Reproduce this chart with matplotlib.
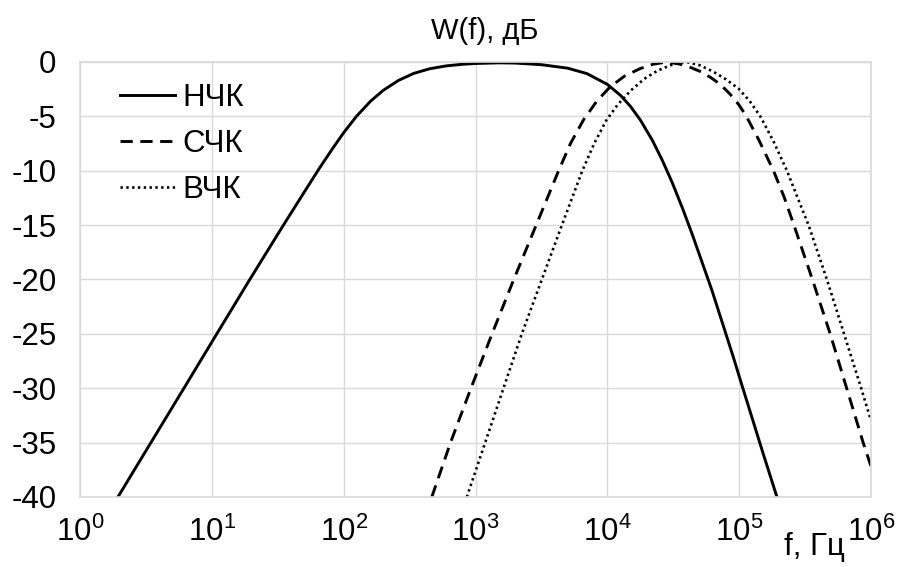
import matplotlib
matplotlib.use("Agg")
import matplotlib.pyplot as plt
from matplotlib.ticker import FixedLocator, NullLocator

plt.rcParams.update({
    "font.family": ["Liberation Sans", "DejaVu Sans"],
    "mathtext.fontset": "custom",
    "mathtext.rm": "Liberation Sans",
    "mathtext.default": "regular",
    "axes.unicode_minus": False,
})

# =============================
#  Data
# =============================
# НЧК (solid)
f_nck = [1.94, 3.45, 6.14, 10.9, 19.4, 34.5, 50, 66, 83, 100, 125, 160, 200, 260, 340,
         450, 600, 800, 1000, 1500, 2000, 3160, 5000, 7000, 10000, 12600, 15000, 17800,
         22000, 26000, 31000, 37000, 44000, 52000, 62100, 75000, 90000, 104700, 125000,
         150000, 193200]
w_nck = [-40, -35, -30, -25, -20, -15.1, -12.0, -9.7, -7.9, -6.5, -5.0, -3.6, -2.6, -1.7, -1.05,
         -0.62, -0.36, -0.21, -0.14, -0.08, -0.1, -0.25, -0.57, -1.07, -2.06, -3.08, -4.1, -5.34,
         -7.23, -9.0, -11.08, -13.4, -15.84, -18.34, -21.0, -24.1, -27.1, -29.7, -32.7,
         -35.8, -40]

# СЧК (dashed)
f_sck = [466, 646, 923, 1334, 1950, 2884, 4266, 5248, 6607, 8318, 10471, 13490, 17783,
         22387, 28184, 35481, 41687, 50119, 60256, 71779, 85114, 98855, 112202, 141254,
         181970, 218776, 260016, 358922, 489779, 653131, 870964, 1000000]
w_sck = [-40, -35, -30, -25, -20, -15, -10, -7.5, -5.3, -3.6, -2.3, -1.3, -0.6,
         -0.2, 0, -0.2, -0.45, -0.85, -1.4, -2.05, -2.95, -3.9, -4.9, -7.2,
         -10, -12.4, -15, -20, -25, -30, -35, -37.2]

# ВЧК (dotted)
f_vck = [859, 1183, 1629, 2244, 3184, 4519, 6457, 7943, 9772, 12023, 15136, 19055,
         23988, 30200, 35481, 39811, 50119, 63826, 79433, 98855, 120226, 144544,
         181970, 230144, 275423, 335738, 462381, 623735, 841395, 1000000]
w_vck = [-40, -35, -30, -25, -20, -15, -10, -7.5, -5.4, -3.9, -2.6, -1.55,
         -0.8, -0.3, -0.05, 0, -0.3, -0.9, -1.6, -2.45, -3.6, -5,
         -7.3, -10, -12.4, -15, -20, -25, -30, -33]

x_ticks = [1e0, 1e1, 1e2, 1e3, 1e4, 1e5, 1e6]
x_tick_labels = ["$10^{%d}$" % i for i in range(7)]
y_ticks = [0, -5, -10, -15, -20, -25, -30, -35, -40]

# =============================
#  Figure
# =============================
fig = plt.figure(figsize=(9.02, 5.67), dpi=100)
ax = fig.add_axes([0.0887, 0.1235, 0.8770, 0.7672])

ax.plot(f_nck, w_nck, color="black", lw=2.1, label="НЧК")
ax.plot(f_sck, w_sck, color="black", lw=2.1, linestyle=(0, (4.2, 2.6)), label="СЧК")
ax.plot(f_vck, w_vck, color="black", lw=1.9, linestyle=(0, (0.9, 1.3)), label="ВЧК")

ax.set_xscale("log")
ax.set_xlim(1, 1e6)
ax.set_ylim(-40, 0)
ax.xaxis.set_major_locator(FixedLocator(x_ticks))
ax.xaxis.set_minor_locator(NullLocator())
ax.set_xticklabels(x_tick_labels)
ax.set_yticks(y_ticks)
ax.set_yticklabels([str(v) for v in y_ticks])
ax.tick_params(axis="both", length=0, labelsize=22.5)
ax.tick_params(axis="x", pad=14)
ax.tick_params(axis="y", pad=17)

ax.grid(True, color="#d9d9d9", lw=1.0)
ax.set_axisbelow(True)
for spine in ax.spines.values():
    spine.set_color("#d9d9d9")
    spine.set_linewidth(1.2)

ax.legend(
    loc="upper left",
    bbox_to_anchor=(0.05, 0.951),
    frameon=False,
    fontsize=22.5,
    handlelength=1.76,
    handletextpad=0.26,
    labelspacing=0.5,
    borderpad=0,
    borderaxespad=0,
)

fig.text(485 / 902, 1 - 31 / 567, "W(f), дБ", fontsize=21, ha="center", va="center")
fig.text(814 / 902, 1 - 547 / 567, "f, Гц", fontsize=22.5, ha="center", va="center")

fig.savefig("out.png", dpi=100)
